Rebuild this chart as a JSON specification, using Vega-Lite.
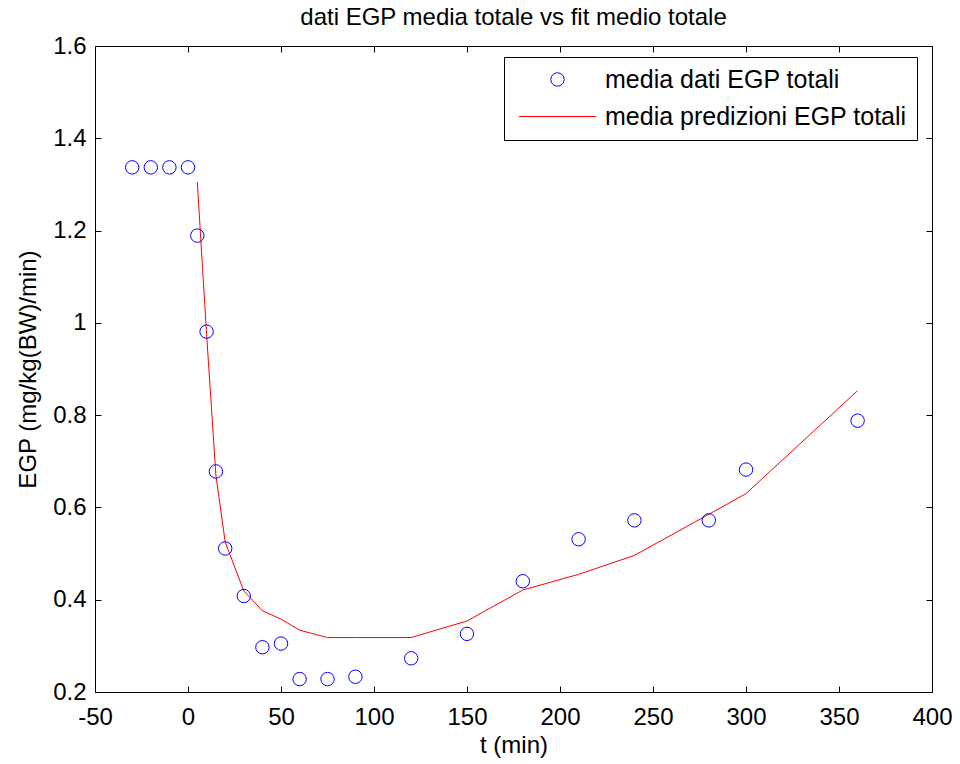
{
  "$schema": "https://vega.github.io/schema/vega-lite/v6.json",
  "autosize": {"type": "none"},
  "width": 837,
  "height": 646,
  "padding": {"left": 95, "top": 46, "right": 28, "bottom": 72},
  "background": "white",
  "config": {
    "font": "Liberation Sans",
    "view": {"stroke": null},
    "axis": {
      "domainColor": "black",
      "domainWidth": 1,
      "tickColor": "black",
      "tickSize": -6,
      "tickWidth": 1,
      "labelColor": "black",
      "labelFont": "Liberation Sans",
      "labelFontSize": 24,
      "labelFlush": false,
      "labelOverlap": false,
      "titleFont": "Liberation Sans",
      "titleFontSize": 24,
      "titleFontWeight": "normal",
      "titleColor": "black",
      "grid": false
    }
  },
  "title": {
    "text": "dati EGP media totale vs fit medio totale",
    "fontSize": 24,
    "fontWeight": "normal",
    "color": "black",
    "frame": "group",
    "anchor": "middle",
    "offset": 4
  },
  "datasets": {
    "dati": [
      {"t": -30, "egp": 1.337, "serie": "media dati EGP totali"},
      {"t": -20, "egp": 1.337, "serie": "media dati EGP totali"},
      {"t": -10, "egp": 1.337, "serie": "media dati EGP totali"},
      {"t": 0, "egp": 1.337, "serie": "media dati EGP totali"},
      {"t": 5, "egp": 1.189, "serie": "media dati EGP totali"},
      {"t": 10, "egp": 0.981, "serie": "media dati EGP totali"},
      {"t": 15, "egp": 0.678, "serie": "media dati EGP totali"},
      {"t": 20, "egp": 0.511, "serie": "media dati EGP totali"},
      {"t": 30, "egp": 0.408, "serie": "media dati EGP totali"},
      {"t": 40, "egp": 0.297, "serie": "media dati EGP totali"},
      {"t": 50, "egp": 0.305, "serie": "media dati EGP totali"},
      {"t": 60, "egp": 0.228, "serie": "media dati EGP totali"},
      {"t": 75, "egp": 0.228, "serie": "media dati EGP totali"},
      {"t": 90, "egp": 0.233, "serie": "media dati EGP totali"},
      {"t": 120, "egp": 0.273, "serie": "media dati EGP totali"},
      {"t": 150, "egp": 0.326, "serie": "media dati EGP totali"},
      {"t": 180, "egp": 0.440, "serie": "media dati EGP totali"},
      {"t": 210, "egp": 0.531, "serie": "media dati EGP totali"},
      {"t": 240, "egp": 0.572, "serie": "media dati EGP totali"},
      {"t": 280, "egp": 0.572, "serie": "media dati EGP totali"},
      {"t": 300, "egp": 0.682, "serie": "media dati EGP totali"},
      {"t": 360, "egp": 0.788, "serie": "media dati EGP totali"}
    ],
    "pred": [
      {"t": 5, "egp": 1.305, "serie": "media predizioni EGP totali"},
      {"t": 10, "egp": 0.975, "serie": "media predizioni EGP totali"},
      {"t": 15, "egp": 0.670, "serie": "media predizioni EGP totali"},
      {"t": 20, "egp": 0.525, "serie": "media predizioni EGP totali"},
      {"t": 30, "egp": 0.419, "serie": "media predizioni EGP totali"},
      {"t": 40, "egp": 0.376, "serie": "media predizioni EGP totali"},
      {"t": 50, "egp": 0.358, "serie": "media predizioni EGP totali"},
      {"t": 60, "egp": 0.334, "serie": "media predizioni EGP totali"},
      {"t": 75, "egp": 0.318, "serie": "media predizioni EGP totali"},
      {"t": 90, "egp": 0.318, "serie": "media predizioni EGP totali"},
      {"t": 120, "egp": 0.318, "serie": "media predizioni EGP totali"},
      {"t": 150, "egp": 0.354, "serie": "media predizioni EGP totali"},
      {"t": 180, "egp": 0.421, "serie": "media predizioni EGP totali"},
      {"t": 210, "egp": 0.455, "serie": "media predizioni EGP totali"},
      {"t": 240, "egp": 0.496, "serie": "media predizioni EGP totali"},
      {"t": 280, "egp": 0.585, "serie": "media predizioni EGP totali"},
      {"t": 300, "egp": 0.630, "serie": "media predizioni EGP totali"},
      {"t": 360, "egp": 0.853, "serie": "media predizioni EGP totali"}
    ]
  },
  "resolve": {"axis": {"x": "independent", "y": "independent"}},
  "layer": [
    {
      "data": {"name": "pred"},
      "mark": {"type": "line", "strokeWidth": 1, "clip": true},
      "encoding": {
        "x": {
          "field": "t", "type": "quantitative",
          "scale": {"domain": [-50, 400], "nice": false, "zero": false},
          "axis": {
            "orient": "bottom",
            "values": [-50, 0, 50, 100, 150, 200, 250, 300, 350, 400],
            "labelExpr": "'' + datum.value",
            "labelPadding": 19,
            "title": "t (min)",
            "titlePadding": 4
          }
        },
        "y": {
          "field": "egp", "type": "quantitative",
          "scale": {"domain": [0.2, 1.6], "nice": false, "zero": false},
          "axis": {
            "orient": "left",
            "values": [0.2, 0.4, 0.6, 0.8, 1.0, 1.2, 1.4, 1.6],
            "format": ".1~f",
            "labelPadding": 15,
            "title": "EGP (mg/kg(BW)/min)",
            "titlePadding": 12
          }
        },
        "color": {
          "field": "serie", "type": "nominal",
          "scale": {
            "domain": ["media dati EGP totali", "media predizioni EGP totali"],
            "range": ["#0000ff", "#ff0000"]
          },
          "legend": {
            "orient": "none",
            "legendX": 409,
            "legendY": 11,
            "title": null,
            "padding": 10,
            "strokeColor": "black",
            "fillColor": "white",
            "cornerRadius": 0,
            "symbolSize": 180,
            "symbolStrokeWidth": 1,
            "symbolOffset": 31,
            "labelOffset": 35,
            "labelFontSize": 25,
            "labelColor": "black",
            "labelFont": "Liberation Sans",
            "rowPadding": 11,
            "labelLimit": 500,
            "encode": {
              "symbols": {
                "update": {
                  "shape": {"signal": "datum.value === 'media dati EGP totali' ? 'circle' : 'M-5.5,0H5.5'"},
                  "size": {"signal": "datum.value === 'media dati EGP totali' ? 180 : 196"},
                  "fill": {"value": "transparent"},
                  "stroke": {"scale": "color", "field": "value"},
                  "strokeWidth": {"value": 1}
                }
              }
            }
          }
        }
      }
    },
    {
      "data": {"name": "dati"},
      "mark": {"type": "point", "shape": "circle", "filled": false, "size": 180, "strokeWidth": 1, "opacity": 1},
      "encoding": {
        "x": {
          "field": "t", "type": "quantitative",
          "axis": {
            "orient": "top",
            "values": [-50, 0, 50, 100, 150, 200, 250, 300, 350, 400],
            "labels": false,
            "title": null
          }
        },
        "y": {
          "field": "egp", "type": "quantitative",
          "axis": {
            "orient": "right",
            "values": [0.2, 0.4, 0.6, 0.8, 1.0, 1.2, 1.4, 1.6],
            "labels": false,
            "title": null
          }
        },
        "color": {"field": "serie", "type": "nominal"}
      }
    }
  ]
}
